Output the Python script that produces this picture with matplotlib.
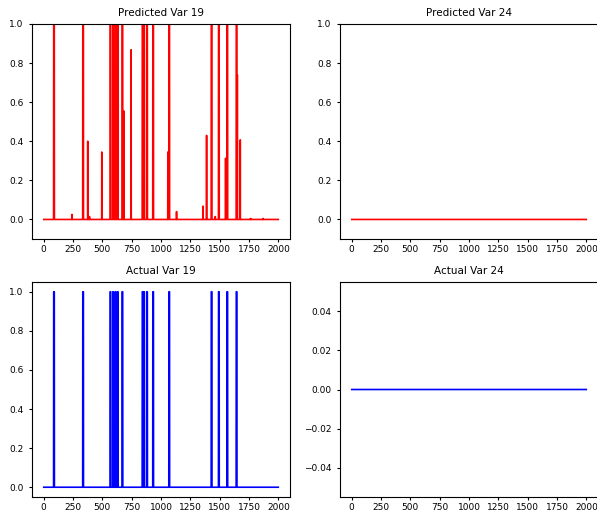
import numpy as np
import matplotlib
matplotlib.use('Agg')
import matplotlib.pyplot as plt

N_STEPS = 2000

# Actual var 19: positions of the 0 -> 1 pulses
actual19_pos = [85, 333, 566, 589, 609, 628, 668, 840, 852, 878, 930, 1067,
                1428, 1490, 1562, 1641]
pulse_width = 6

# Predicted var 19: wide pulses that reach 1.0
pred19_full = [85, 333, 566, 589, 609, 628, 668, 840, 852, 878, 930, 1067,
               1428, 1490, 1562, 1641]
# Predicted var 19: single-step partial peaks
pred19_peak_pos = [241, 375, 390, 495, 683, 745, 1058, 1132, 1357, 1388,
                   1462, 1550, 1650, 1675, 1763, 1869]
pred19_peak_val = [0.026, 0.40, 0.015, 0.345, 0.555, 0.868, 0.345, 0.04,
                   0.068, 0.43, 0.015, 0.313, 0.74, 0.407, 0.005, 0.005]

x = np.arange(N_STEPS)

actual19 = np.zeros(N_STEPS)
for p in actual19_pos:
    actual19[p:p + pulse_width] = 1.0

pred19 = np.zeros(N_STEPS)
for p in pred19_full:
    pred19[p:p + pulse_width] = 1.0
for p, v in zip(pred19_peak_pos, pred19_peak_val):
    pred19[p] = max(pred19[p], v)

pred24 = np.zeros(N_STEPS)
actual24 = np.zeros(N_STEPS)

plt.rcParams['font.size'] = 7

fig = plt.figure(figsize=(5.97, 5.12), dpi=100)
W, H = 597, 512

def add_ax(left, top, w=258, h=215):
    return fig.add_axes([left / W, (H - top - h) / H, w / W, h / H])

ax1 = add_ax(32, 24)
ax2 = add_ax(340, 24)
ax3 = add_ax(32, 282)
ax4 = add_ax(340, 282)

ax1.plot(x, pred19, color='r', lw=1.2)
ax1.set_ylim(-0.1, 1.0)
ax1.set_title('Predicted Var 19', fontsize=7.5)

ax2.plot(x, pred24, color='r', lw=1.2)
ax2.set_ylim(-0.1, 1.0)
ax2.set_title('Predicted Var 24', fontsize=7.5)

ax3.plot(x, actual19, color='b', lw=1.2)
ax3.set_title('Actual Var 19', fontsize=7.5)

ax4.plot(x, actual24, color='b', lw=1.2)
ax4.set_title('Actual Var 24', fontsize=7.5)

for ax in [ax1, ax2, ax3, ax4]:
    ax.set_xticks([0, 250, 500, 750, 1000, 1250, 1500, 1750, 2000])
    ax.tick_params(labelsize=6.5, length=2.5)
    ax.tick_params(axis='x', pad=2)

fig.savefig('out.png', dpi=100)
